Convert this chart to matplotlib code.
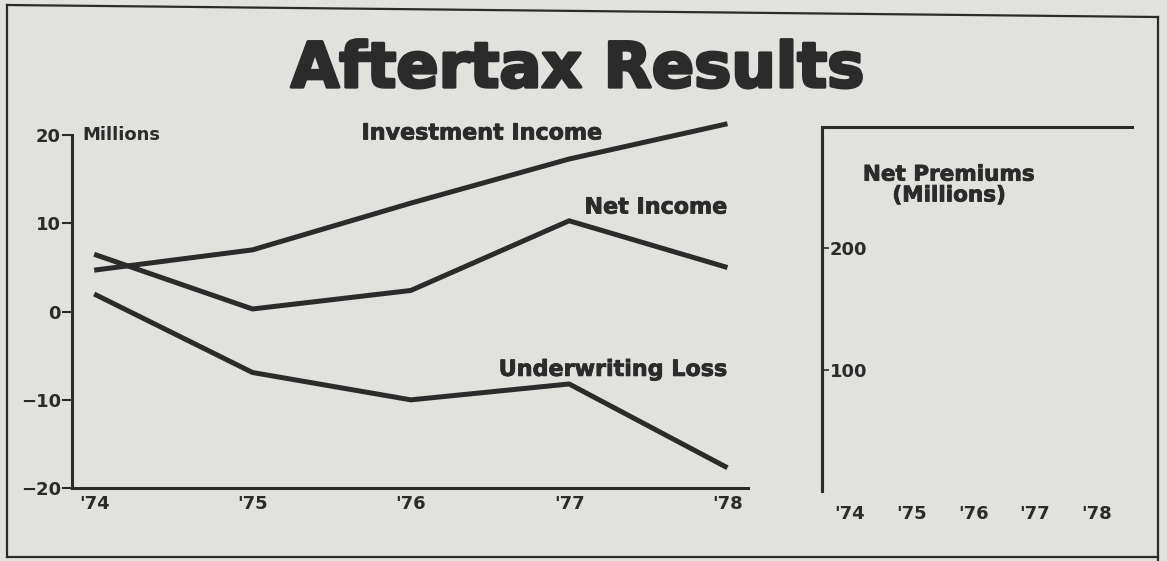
import matplotlib.pyplot as plt
import matplotlib.patheffects as pe
from matplotlib.lines import Line2D

# values
years = ["'74", "'75", "'76", "'77", "'78"]
investment_income = [4.7, 7.0, 12.3, 17.3, 21.3]
net_income = [6.5, 0.3, 2.4, 10.3, 5.0]
underwriting_loss = [2.0, -6.9, -10.0, -8.2, -17.7]
premium_ticks = [100, 200]

BG = '#e1e2de'
INK = '#2b2b2b'

plt.rcParams['font.family'] = ['DejaVu Sans']
plt.rcParams['font.weight'] = 'bold'

# thicken the bold face a little, the print uses a black grotesque
heavy = [pe.withStroke(linewidth=0.6, foreground=INK)]

fig = plt.figure(figsize=(11.67, 5.61), dpi=100, facecolor=BG)

# ---- left panel: aftertax results
ax = fig.add_axes([0.0617, 0.130, 0.5793, 0.629], facecolor=BG)
x = list(range(len(years)))
for series in (investment_income, net_income, underwriting_loss):
    ax.plot(x, series, color=INK, lw=3.6, solid_capstyle='butt', clip_on=False)

ax.set_xlim(-0.14, 4.13)
ax.set_ylim(-20, 20)
ax.set_yticks([-20, -10, 0, 10, 20])
ax.set_yticklabels(['\u221220', '\u221210', '0', '10', '20'])
ax.set_xticks(x)
ax.set_xticklabels(years)
for s in ('top', 'right'):
    ax.spines[s].set_visible(False)
for s in ('left', 'bottom'):
    ax.spines[s].set_color(INK)
    ax.spines[s].set_linewidth(2.2)
ax.tick_params(axis='y', direction='out', length=7, width=1.5, color=INK,
               labelsize=13, labelcolor=INK, pad=1)
ax.tick_params(axis='x', length=0, labelsize=13, labelcolor=INK, pad=5)

ax.text(0.015, 1.0, 'Millions', transform=ax.transAxes, ha='left', va='center',
        fontsize=13, color=INK)
ax.text(2.45, 20.2, 'Investment Income', ha='center', va='center',
        fontsize=16, color=INK, clip_on=False, path_effects=heavy)
ax.text(4.0, 11.8, 'Net Income', ha='right', va='center',
        fontsize=16, color=INK, path_effects=heavy)
ax.text(4.0, -6.6, 'Underwriting Loss', ha='right', va='center',
        fontsize=16, color=INK, path_effects=heavy)

# ---- right panel: net premiums (bars lost in the scan)
ax2 = fig.add_axes([0.704, 0.125, 0.266, 0.649], facecolor=BG)
ax2.set_xlim(-0.45, 4.57)
ax2.set_ylim(0, 300)
ax2.set_xticks(x)
ax2.set_xticklabels(years)
ax2.set_yticks(premium_ticks)
ax2.yaxis.tick_right()
ax2.spines['right'].set_position(('axes', 0))
ax2.spines['bottom'].set_visible(False)
for s in ('left', 'top', 'right'):
    ax2.spines[s].set_color(INK)
    ax2.spines[s].set_linewidth(2.2)
ax2.tick_params(axis='y', direction='out', length=5, width=1.2, color=INK,
                labelsize=13, labelcolor=INK, pad=1)
ax2.tick_params(axis='x', length=0, labelsize=13, labelcolor=INK, pad=10)
ax2.text(0.41, 0.84, 'Net Premiums\n(Millions)', transform=ax2.transAxes,
         ha='center', va='center', fontsize=15.5, color=INK,
         linespacing=1.05, path_effects=heavy)

# ---- title and outer frame
fig.text(0.495, 0.875, 'Aftertax Results', ha='center', va='center',
         fontsize=45, color=INK,
         path_effects=[pe.withStroke(linewidth=2.2, foreground=INK)])

W, H = 1167, 561
frame = [((7, 7), (5, 557)), ((7, 1158), (5, 17)),
         ((1158, 1158), (17, 561)), ((7, 1158), (557, 557))]
for (x0, x1), (y0, y1) in frame:
    fig.add_artist(Line2D([x0 / W, x1 / W], [1 - y0 / H, 1 - y1 / H],
                          color=INK, lw=1.6))

fig.savefig('out.png', dpi=100, facecolor=BG)
